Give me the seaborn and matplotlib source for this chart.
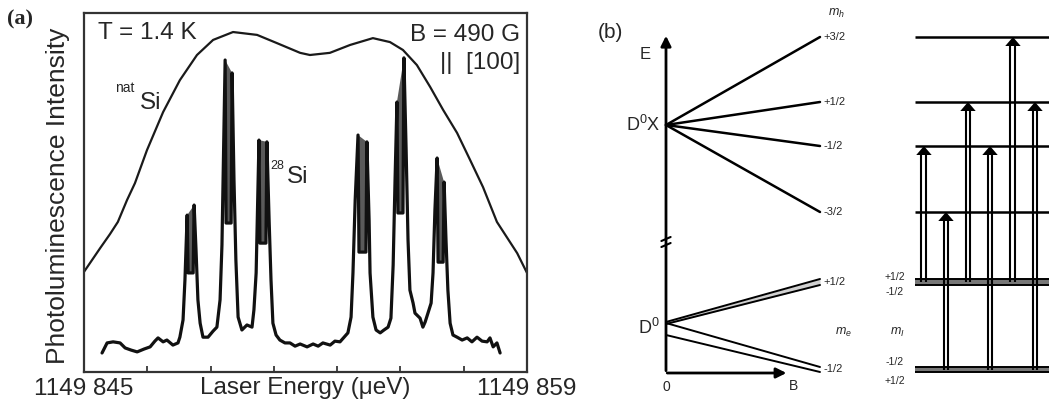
import matplotlib
matplotlib.use("Agg")
import matplotlib.pyplot as plt
import numpy as np
import pandas as pd
import seaborn as sns

# ---------- (a) espectro ----------
# energia em ueV acima de 1149 845 ueV, intensidade em % da altura do eixo
env_e = [0.0, 0.51, 0.82, 1.07, 1.36, 1.61, 1.99, 2.50, 3.03, 3.57, 4.08, 4.71, 5.47, 6.10,
         6.83, 7.14, 7.77, 8.41, 9.13, 9.67, 10.08, 10.52, 10.94, 11.35, 11.79, 12.20,
         12.61, 13.05, 13.69, 14.0]
env_i = [27.9, 34.5, 38.4, 41.8, 47.9, 52.6, 61.8, 72.4, 81.3, 88.3, 92.5, 94.7, 93.9, 91.6,
         88.9, 88.3, 88.9, 91.1, 93.0, 91.9, 89.7, 85.5, 79.4, 73.0, 66.6, 59.1,
         51.5, 41.8, 33.1, 27.6]

spec_e = [0.57, 0.73, 0.92, 1.14, 1.30, 1.49, 1.68, 1.90, 2.09, 2.24, 2.34, 2.50, 2.62, 2.81,
          2.97, 3.03, 3.13, 3.19, 3.26, 3.29, 3.45, 3.48, 3.54, 3.60, 3.67, 3.76, 3.92, 4.08,
          4.20, 4.30, 4.36, 4.46, 4.49, 4.65, 4.68, 4.74, 4.80, 4.87, 4.99, 5.15, 5.31, 5.37,
          5.44, 5.53, 5.56, 5.75, 5.78, 5.85, 5.91, 5.97, 6.07, 6.19, 6.35, 6.51, 6.67, 6.83,
          7.05, 7.24, 7.40, 7.55, 7.78, 7.93, 8.09, 8.22, 8.34, 8.44, 8.50, 8.57, 8.66, 8.69,
          8.91, 8.94, 9.01, 9.04, 9.13, 9.23, 9.36, 9.48, 9.61, 9.70, 9.77, 9.83, 9.89, 9.92,
          10.08, 10.11, 10.18, 10.24, 10.30, 10.40, 10.46, 10.62, 10.71, 10.78, 10.87, 10.97,
          11.03, 11.09, 11.16, 11.19, 11.35, 11.38, 11.44, 11.50, 11.57, 11.66, 11.79, 11.95,
          12.11, 12.26, 12.42, 12.58, 12.74, 12.83, 12.93, 13.05, 13.15]
spec_i = [5.3, 8.1, 8.4, 8.1, 6.7, 6.1, 5.6, 6.4, 7.0, 8.6, 9.5, 8.4, 8.9, 7.5,
          8.1, 9.7, 14.5, 25.6, 43.7, 27.6, 27.6, 46.5, 34.0, 20.1, 13.6, 9.7, 9.7, 11.4,
          12.5, 20.1, 35.4, 86.9, 41.5, 41.5, 83.3, 53.5, 31.2, 15.3, 11.7, 13.1, 12.5, 17.3,
          27.6, 64.6, 35.9, 35.9, 64.1, 42.3, 25.6, 13.6, 10.3, 8.9, 8.1, 8.1, 7.2, 7.8,
          7.0, 7.8, 7.2, 8.1, 7.5, 8.6, 8.4, 9.7, 10.9, 15.3, 27.6, 47.9, 66.0, 33.4,
          33.4, 64.1, 42.3, 27.6, 15.3, 11.7, 10.9, 11.7, 12.5, 15.0, 29.8, 53.5, 75.2, 44.3,
          44.3, 87.5, 61.8, 36.8, 22.8, 19.2, 16.4, 15.0, 12.5, 13.9, 16.4, 19.2,
          27.6, 45.1, 59.6, 30.6, 30.6, 52.9, 36.8, 22.8, 13.6, 10.3, 9.7, 8.9,
          9.5, 8.4, 9.7, 8.6, 8.4, 9.5, 7.0, 8.1, 5.3]

# energia do pico esquerdo / direito de cada dubleto
pair_lo = [3.26, 4.46, 5.53, 8.66, 9.89, 11.16]
pair_hi = [3.48, 4.68, 5.78, 8.94, 10.11, 11.38]
xticks = [0, 2, 4, 6, 8, 10, 12, 14]
xtick_labels = ["1149 845", "", "", "", "", "", "", "1149 859"]

# ---------- (b) diagrama de niveis ----------
dx_E0 = 24.8
dx_levels = [33.6, 27.1, 22.7, 16.1]
mh_labels = ["+3/2", "+1/2", "-1/2", "-3/2"]
d0_start = [5.1, 4.9, 5.0, 3.8]
d0_end = [9.4, 8.8, 0.6, 0.1]
me_labels = ["+1/2", "-1/2"]
mi_labels = ["+1/2", "-1/2", "-1/2", "+1/2"]
trans_from = [0, 1, 0, 1, 0, 1]
trans_to = [2, 3, 1, 2, 0, 1]
trans_pos = [1.675, 1.818, 1.961, 2.104, 2.253, 2.396]

sns.set_style("white")
plt.rcParams["font.family"] = ["Liberation Sans", "DejaVu Sans"]
plt.rcParams["mathtext.fontset"] = "custom"
plt.rcParams["mathtext.rm"] = "Liberation Sans"
plt.rcParams["mathtext.it"] = "Liberation Sans:italic"
plt.rcParams["xtick.direction"] = "in"

W, H = 1049, 413
fig = plt.figure(figsize=(W / 100, H / 100), dpi=100)

ax = fig.add_axes([84 / W, 1 - 372 / H, 443 / W, 359 / H])
env = pd.DataFrame({"e": env_e, "i": env_i})
spec = pd.DataFrame({"e": spec_e, "i": spec_i})
se = np.array(spec_e)
si = np.array(spec_i)
for lo, hi in zip(pair_lo, pair_hi):
    m = (se >= lo - 1e-6) & (se <= hi + 1e-6)
    ax.fill(se[m], si[m], color="#5a5a5a", lw=0)
sns.lineplot(data=env, x="e", y="i", ax=ax, color="#1a1a1a", lw=1.6, sort=False, estimator=None)
sns.lineplot(data=spec, x="e", y="i", ax=ax, color="#111111", lw=2.3, sort=False, estimator=None)

ax.set_xlim(0, 14)
ax.set_ylim(0, 100)
ax.set_xticks(xticks)
ax.set_xticklabels(xtick_labels, fontsize=17.5)
ax.set_yticks([])
ax.tick_params(axis="x", direction="in", length=4, width=1.2, pad=4, bottom=True)
for s in ax.spines.values():
    s.set_color("#333333")
    s.set_linewidth(1.6)
ax.set_xlabel("Laser Energy (\u03bceV)", fontsize=17.5)
ax.xaxis.set_label_coords(0.5, -0.014)
ax.set_ylabel("Photoluminescence Intensity", fontsize=19)
ax.yaxis.set_label_coords(-0.032, 0.49)

ax.text(0.032, 0.944, "T = 1.4 K", transform=ax.transAxes, fontsize=17.5, va="center", ha="left")
ax.text(0.984, 0.939, "B = 490 G", transform=ax.transAxes, fontsize=17.5, va="center", ha="right")
ax.text(0.984, 0.861, "||  [100]", transform=ax.transAxes, fontsize=17.5, va="center", ha="right")
ax.text(0.126, 0.749, "Si", transform=ax.transAxes, fontsize=17.5, va="center", ha="left")
ax.text(0.070, 0.790, "nat", transform=ax.transAxes, fontsize=10, va="center", ha="left")
ax.text(0.458, 0.543, "Si", transform=ax.transAxes, fontsize=17.5, va="center", ha="left")
ax.text(0.420, 0.573, "28", transform=ax.transAxes, fontsize=9, va="center", ha="left")
fig.text(7 / W, 1 - 19 / H, "(a)", fontsize=16, fontweight="bold", family="Liberation Serif",
         va="center", ha="left")

# ---------- (b) ----------
bx = fig.add_axes([560 / W, 0, 489 / W, 1])
bx.set_xlim(-0.6883, 2.487)
bx.set_ylim(-4.0, 37.3)
bx.axis("off")

# eixos E e B
bx.annotate("", xy=(0, 34.0), xytext=(0, -0.05),
            arrowprops=dict(arrowstyle="-|>,head_length=0.6,head_width=0.3", color="k", lw=2))
bx.annotate("", xy=(0.80, 0), xytext=(-0.01, 0),
            arrowprops=dict(arrowstyle="-|>,head_length=0.6,head_width=0.3", color="k", lw=2))
bx.plot([-0.03, 0.03], [12.6, 13.0], color="k", lw=1.5)
bx.plot([-0.03, 0.03], [13.2, 13.6], color="k", lw=1.5)

for lev in dx_levels:
    bx.plot([0, 1], [dx_E0, lev], color="k", lw=1.8)
bx.fill_between([0, 1], [d0_start[0], d0_end[0]], [d0_start[1], d0_end[1]],
                color="#d0d0d0", lw=0)
for s0, s1 in zip(d0_start, d0_end):
    bx.plot([0, 1], [s0, s1], color="k", lw=1.4)

bx.text(-0.10, 31.8, "E", fontsize=12, ha="right", va="center")
bx.text(-0.04, dx_E0, "D$^{0}$X", fontsize=13, ha="right", va="center")
bx.text(-0.04, 4.5, "D$^{0}$", fontsize=13, ha="right", va="center")
bx.text(0.0, -1.4, "0", fontsize=10, ha="center", va="center")
bx.text(0.825, -1.3, "B", fontsize=10, ha="center", va="center")
fig.text(610 / W, 1 - 32 / H, "(b)", fontsize=15, ha="center", va="center")

bx.text(1.11, 36.0, "$m_h$", fontsize=9, ha="center", va="center")
for lev, lab in zip(dx_levels, mh_labels):
    bx.text(1.02, lev, lab, fontsize=8, ha="left", va="center")
ground = [(d0_end[0] + d0_end[1]) / 2, (d0_end[2] + d0_end[3]) / 2]
for g, lab in zip(ground, me_labels):
    bx.text(1.02, g, lab, fontsize=8, ha="left", va="center")
bx.text(1.15, 4.1, "$m_e$", fontsize=9, ha="center", va="center")
bx.text(1.50, 4.1, "$m_I$", fontsize=9, ha="center", va="center")
for e, lab in zip([9.6, 8.1, 1.1, -0.8], mi_labels):
    bx.text(1.487, e, lab, fontsize=7.5, ha="center", va="center")

# niveis (direita)
x_lvl = 1.617
bx.hlines(dx_levels, x_lvl, 3.0, color="k", lw=1.8)
for k in range(2):
    a, b = 2 * k, 2 * k + 1
    bx.fill_between([x_lvl, 3.0], d0_end[b], d0_end[a], color="#777777", lw=0)
    bx.hlines([d0_end[a], d0_end[b]], x_lvl, 3.0, color="k", lw=1.4)

for xp, f, t in zip(trans_pos, trans_from, trans_to):
    y0 = ground[f]
    y1 = dx_levels[t]
    bx.vlines([xp - 0.016, xp + 0.016], y0, y1 - 0.7, color="k", lw=1.5)
    bx.fill([xp - 0.05, xp, xp + 0.05], [y1 - 0.9, y1, y1 - 0.9], color="k", lw=0)

fig.savefig("out.png", dpi=100)
